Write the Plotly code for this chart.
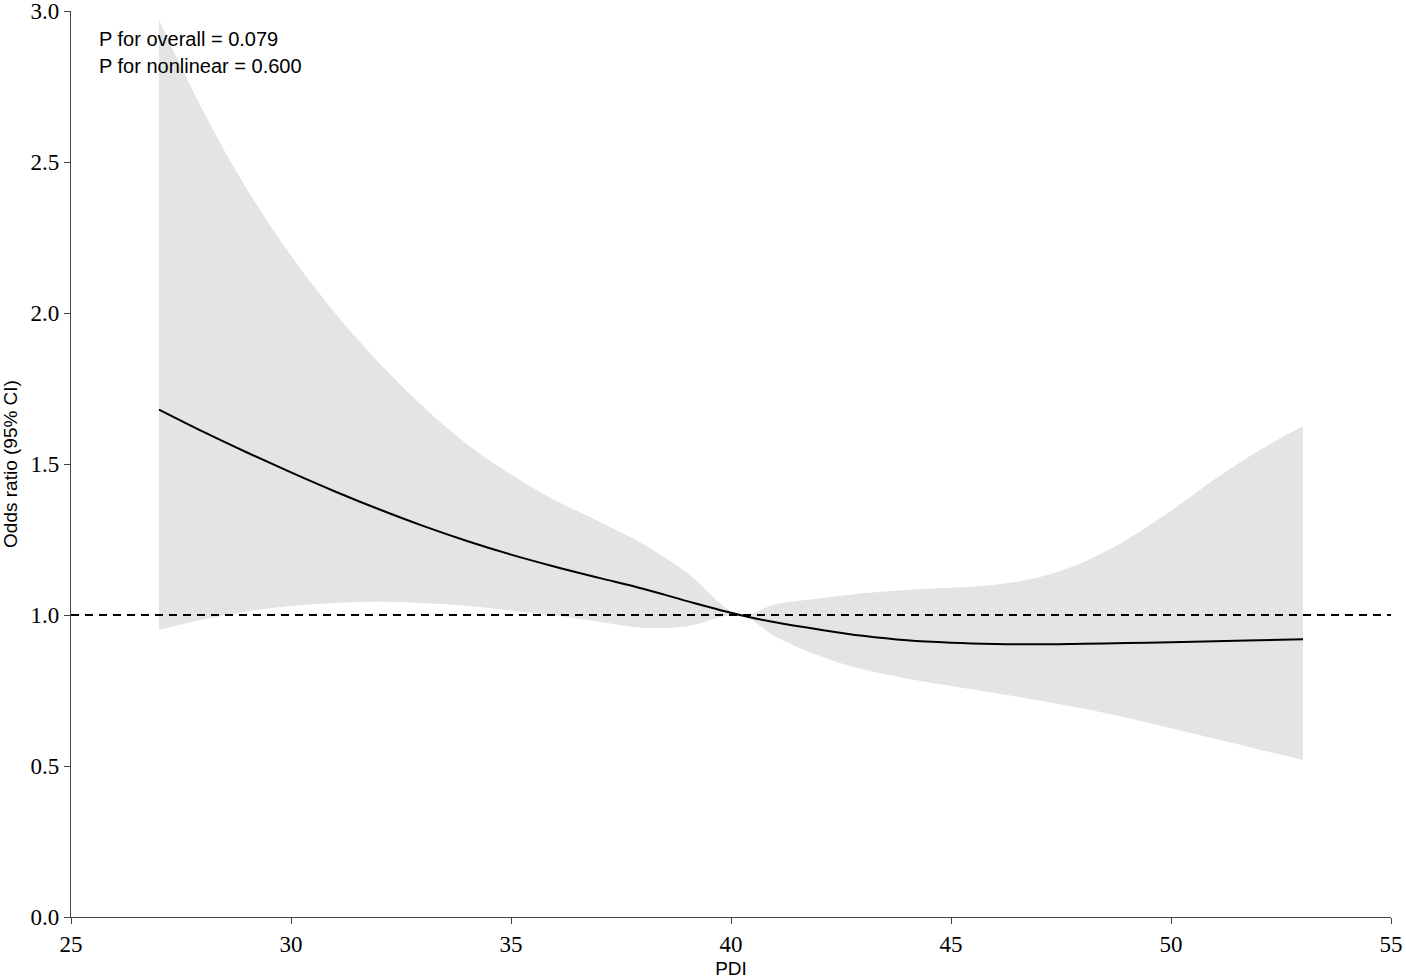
import plotly.graph_objects as go

# PDI grid and spline estimates
pdi = [27, 28, 29, 30, 31, 32, 33, 34, 35, 36, 37, 38, 39, 40.2,
       41, 42, 43, 44, 45, 46, 47, 48, 49, 50, 51, 52, 53]
odds_ratio = [1.68, 1.607, 1.538, 1.472, 1.409, 1.350, 1.295, 1.245, 1.200, 1.160, 1.123, 1.087, 1.046, 1.0,
              0.976, 0.952, 0.931, 0.916, 0.908, 0.904, 0.903, 0.905, 0.907, 0.910, 0.913, 0.916, 0.92]
ci_upper = [2.97, 2.67, 2.41, 2.19, 2.00, 1.835, 1.69, 1.565, 1.465, 1.38, 1.31, 1.235, 1.14, 1.0,
            1.035, 1.055, 1.072, 1.083, 1.09, 1.10, 1.125, 1.175, 1.25, 1.345, 1.45, 1.545, 1.625]
ci_lower = [0.95, 0.985, 1.012, 1.03, 1.04, 1.044, 1.04, 1.03, 1.015, 0.998, 0.978, 0.958, 0.963, 1.0,
            0.93, 0.865, 0.82, 0.79, 0.765, 0.742, 0.717, 0.69, 0.66, 0.625, 0.59, 0.555, 0.52]

p_text = ["P for overall = 0.079", "P for nonlinear = 0.600"]

fig = go.Figure()
# confidence band: upper edge then lower edge filled to it
fig.add_trace(go.Scatter(x=pdi, y=ci_upper, mode='lines', line=dict(width=0, shape='spline'),
                         hoverinfo='skip', showlegend=False))
fig.add_trace(go.Scatter(x=pdi, y=ci_lower, mode='lines', line=dict(width=0, shape='spline'),
                         fill='tonexty', fillcolor='#e4e4e4', hoverinfo='skip', showlegend=False))
fig.add_trace(go.Scatter(x=pdi, y=odds_ratio, mode='lines',
                         line=dict(color='black', width=2, shape='spline'), showlegend=False))

fig.add_hline(y=1, line=dict(color='black', width=2, dash='8px,6px'))

for i, t in enumerate(p_text):
    fig.add_annotation(x=25.59, y=2.907 - 0.089 * i, xref='x', yref='y', text=t, showarrow=False,
                       xanchor='left', yanchor='middle',
                       font=dict(family='Liberation Sans, Arial', size=20, color='black'))

axis_common = dict(showline=True, linecolor='#444', linewidth=1.2, ticks='outside', ticklen=6,
                   tickcolor='#444', showgrid=False, zeroline=False, automargin=False,
                   ticklabeloverflow='allow',
                   tickfont=dict(family='Liberation Serif, Times New Roman', size=23, color='black'))
fig.update_xaxes(range=[25, 55], tickvals=[25, 30, 35, 40, 45, 50, 55],
                 title=dict(text='PDI',
                            font=dict(family='Liberation Sans, Arial', size=19, color='black')),
                 **axis_common)
fig.update_yaxes(range=[0, 3], tickvals=[0, 0.5, 1, 1.5, 2, 2.5, 3], tickformat='.1f',
                 title=dict(text='Odds ratio (95% CI)',
                            font=dict(family='Liberation Sans, Arial', size=19, color='black')),
                 **axis_common)
fig.update_layout(width=1406, height=979, plot_bgcolor='white', paper_bgcolor='white',
                  margin=dict(l=71, r=15, t=11, b=62))
# drop the default page margin so the figure sits at the window's corner
fig.write_html("out.html", config={'displayModeBar': False},
               post_script="document.body.style.margin='0';")
